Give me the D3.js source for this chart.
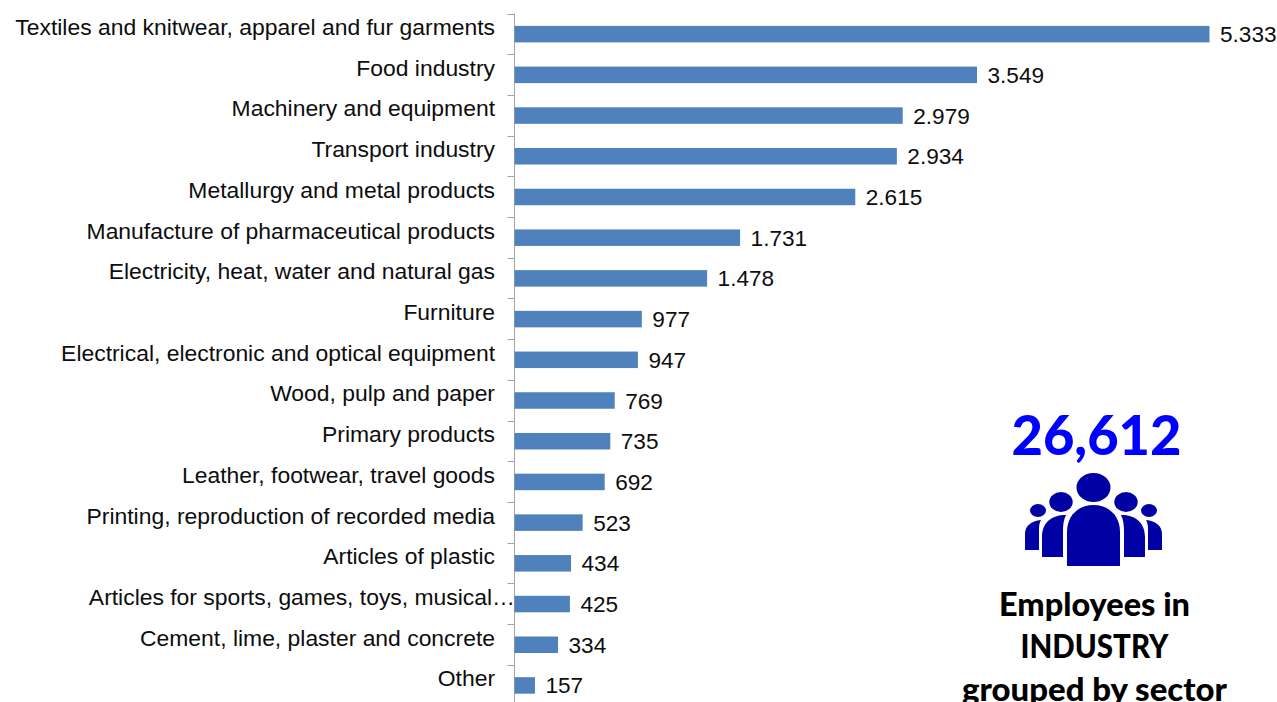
<!DOCTYPE html>
<html><head><meta charset="utf-8">
<script src="https://cdn.jsdelivr.net/npm/d3@7"></script>
<style>html,body{margin:0;padding:0;background:#fff;overflow:hidden}svg{display:block}</style>
</head><body><div id="c"></div>
<script>
const categories=["Textiles and knitwear, apparel and fur garments","Food industry","Machinery and equipment","Transport industry","Metallurgy and metal products","Manufacture of pharmaceutical products","Electricity, heat, water and natural gas","Furniture","Electrical, electronic and optical equipment","Wood, pulp and paper","Primary products","Leather, footwear, travel goods","Printing, reproduction of recorded media","Articles of plastic","Articles for sports, games, toys, musical…","Cement, lime, plaster and concrete","Other"];
const employees=[5333,3549,2979,2934,2615,1731,1478,977,947,769,735,692,523,434,425,334,157];
const totalLabel="26,612";
const captionLines=["Employees in","INDUSTRY","grouped by sector"];

const W=1277,H=702;
const svg=d3.select("#c").append("svg").attr("width",W).attr("height",H).attr("viewBox",`0 0 ${W} ${H}`);
const x=d3.scaleLinear().domain([0,5333]).range([514.5,1209.5]);
const y=d3.scaleBand().domain(categories).range([13.5,705.5]);
const barH=16.5;
const fmt=d3.formatLocale({decimal:",",thousands:".",grouping:[3],currency:["",""]}).format(",d");
const font="'Liberation Sans',Arial,sans-serif";
const cy=d=>y(d)+y.bandwidth()/2;

const axis=d3.axisLeft(y).tickSize(0).tickFormat("");
svg.append("g").attr("transform","translate(514.5,0)").call(axis).call(g=>{
  g.select(".domain").remove();
  g.append("line").attr("y1",13.5).attr("y2",702).attr("stroke","#a6a6a6").attr("stroke-width",1);
  const ticks=categories.map(c=>y(c)).filter(v=>v<702);
  g.selectAll("line.t").data(ticks).join("line").attr("class","t")
    .attr("x1",-7).attr("x2",0).attr("y1",d=>Math.round(d)+.5).attr("y2",d=>Math.round(d)+.5)
    .attr("stroke","#a6a6a6");
});

svg.append("g").selectAll("rect").data(categories).join("rect")
  .attr("x",x(0)).attr("y",d=>cy(d)-barH/2+.3).attr("height",barH)
  .attr("width",(d,i)=>x(employees[i])-x(0)).attr("fill","#4f81bd");

svg.append("g").selectAll("text").data(categories).join("text")
  .attr("x",d=>d.endsWith("…")?515:495).attr("y",d=>cy(d)-6.8).attr("dy","0.35em").attr("text-anchor","end")
  .attr("font-family",font).attr("font-size",22.9).attr("fill","#0d0d0d").text(d=>d);

svg.append("g").selectAll("text").data(employees).join("text")
  .attr("x",d=>x(d)+10.5).attr("y",(d,i)=>cy(categories[i])+.4).attr("dy","0.35em")
  .attr("font-family",font).attr("font-size",22.6).attr("fill","#0d0d0d").text(d=>fmt(d));

svg.append("text").attr("x",1096.5).attr("y",455).attr("text-anchor","middle")
  .attr("font-family","Lato,sans-serif").attr("font-weight",900).attr("font-size",56).attr("fill","#0000ff")
  .attr("textLength",170).attr("lengthAdjust","spacingAndGlyphs").text(totalLabel);

const ic=svg.append("g").attr("fill","#0000a5");
ic.append("ellipse").attr("cx",1093.5).attr("cy",487.5).attr("rx",17).attr("ry",14.5);
ic.append("ellipse").attr("cx",1061).attr("cy",502).attr("rx",11.7).attr("ry",10);
ic.append("ellipse").attr("cx",1126).attr("cy",502).attr("rx",11.7).attr("ry",10);
ic.append("ellipse").attr("cx",1038).attr("cy",510.5).attr("rx",8).attr("ry",6.5);
ic.append("ellipse").attr("cx",1149).attr("cy",510.5).attr("rx",8).attr("ry",6.5);
ic.append("path").attr("d","M1067,566V532C1067,515 1079,505 1093.5,505C1108,505 1120,515 1120,532V566Z");
ic.append("path").attr("d","M1042,557V537C1042,523 1051,515 1066,515C1063.5,520 1063,525 1063,532V557Z");
ic.append("path").attr("d","M1145,557V537C1145,523 1136,515 1121,515C1123.5,520 1124,525 1124,532V557Z");
ic.append("path").attr("d","M1025,550V534C1025,526 1031,521 1041,520C1039,523 1039,527 1039,531V550Z");
ic.append("path").attr("d","M1162,550V534C1162,526 1156,521 1146,520C1148,523 1148,527 1148,531V550Z");

const captionWidths=[191,148,265];
svg.append("g").selectAll("text").data(captionLines).join("text")
  .attr("x",1094.5).attr("y",(d,i)=>615.5+i*42.5).attr("text-anchor","middle")
  .attr("font-family","Lato,sans-serif").attr("font-weight",900).attr("font-size",32)
  .attr("textLength",(d,i)=>captionWidths[i]).attr("lengthAdjust","spacingAndGlyphs").attr("fill","#000").text(d=>d);
</script></body></html>
